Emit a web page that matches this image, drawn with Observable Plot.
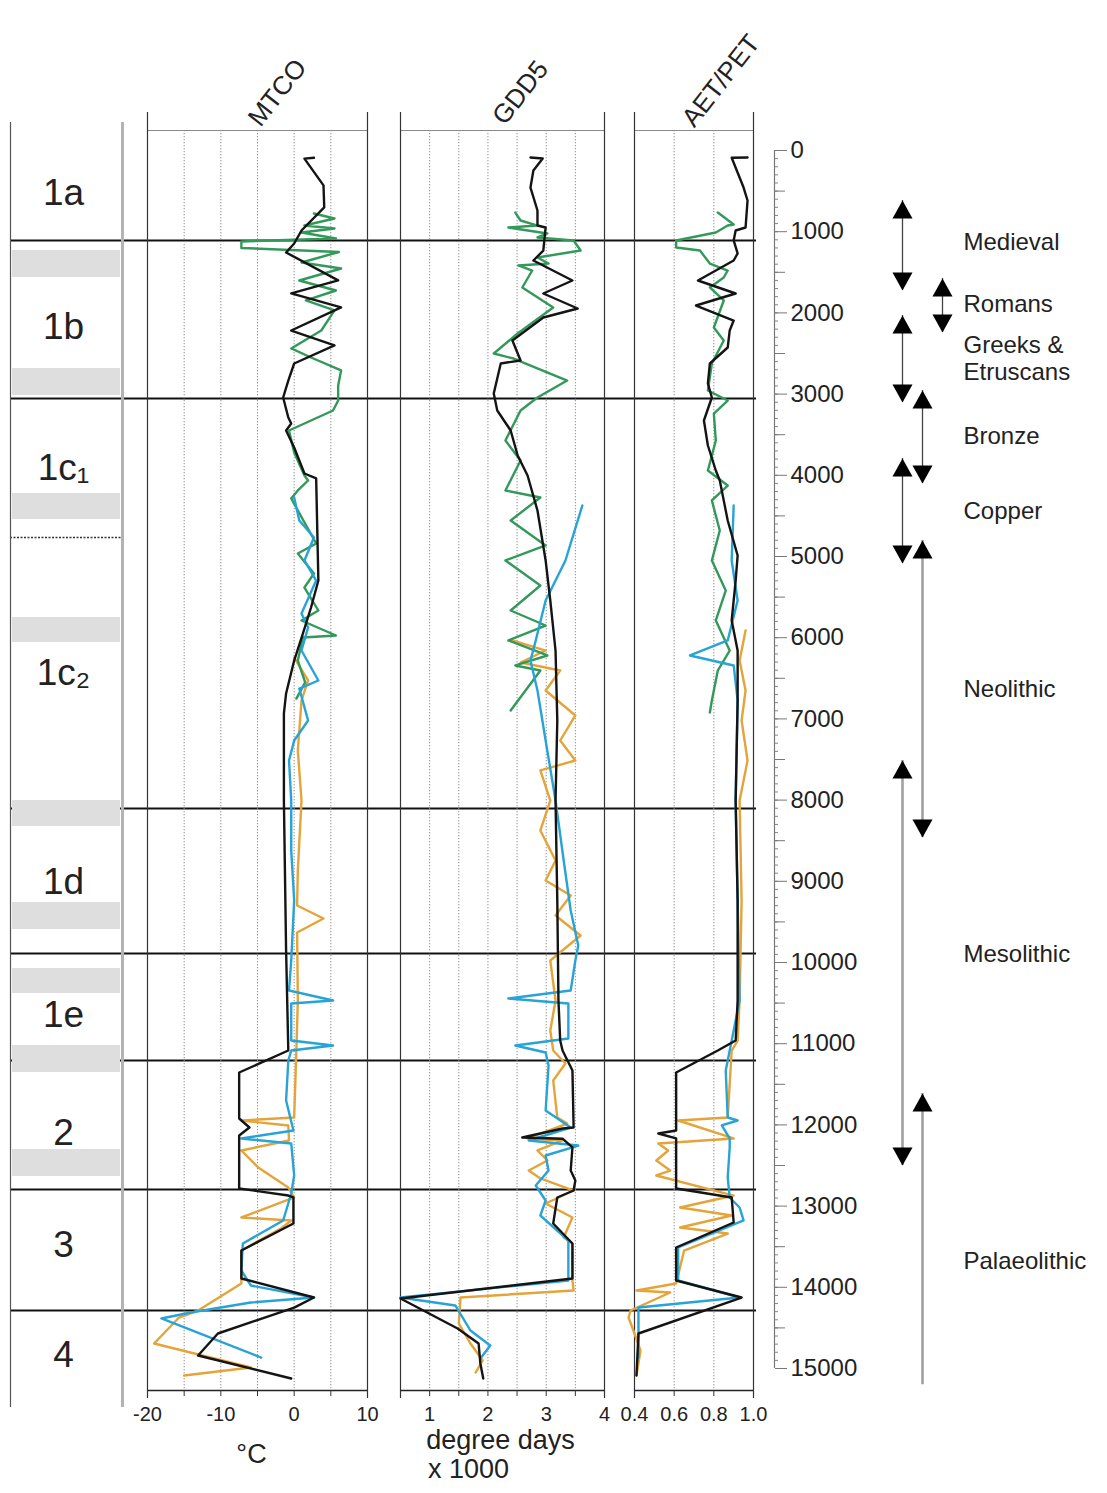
<!DOCTYPE html>
<html><head><meta charset="utf-8">
<script src="https://cdn.jsdelivr.net/npm/d3@7"></script>
<script src="https://cdn.jsdelivr.net/npm/@observablehq/plot@0.6"></script>
<style>
html,body{margin:0;padding:0;background:#fff;overflow:hidden}
#chart{position:relative;width:1107px;height:1493px}
#chart svg{position:absolute;left:0;top:0}
</style></head><body><div id="chart"></div>
<script>
// ---------------- DATA (age in cal yr BP, value) ----------------
const ageTicks = [0,1000,2000,3000,4000,5000,6000,7000,8000,9000,10000,11000,12000,13000,14000,15000];

const zoneBounds = [1108, 3054, 8103, 9889, 11207, 12795, 14286];
const zoneSubBound = [4766];
const zoneNames = ["1a","1b","1c\u2081","1c\u2082","1d","1e","2","3","4"];
const zoneLabelAge = [520, 2180, 3916, 6441, 9015, 10653, 12106, 13485, 14840];
const grayBandStart = [1232, 2685, 4224, 5751, 8005, 9261, 10074, 11022, 12303];
const grayBandEnd   = [1564, 3017, 4544, 6059, 8325, 9594, 10382, 11355, 12635];

const periodNames = ["Medieval","Romans","Greeks &\nEtruscans","Bronze","Copper","Neolithic","Mesolithic","Palaeolithic"];
const periodLabelAge = [1120, 1884, 2557, 3510, 4433, 6626, 9889, 13670];
const periodStart = [616, 1576, 2032, 2956, 3793, 4803, 7512, 11613];
const periodEnd   = [1724, 2241, 3103, 4101, 5086, 8460, 12500, null];
const periodLane  = ["a","c","a","b","a","b","a","b"];
const periodOpenEnd = 15200;

const mtcoTicks = [-20,-15,-10,-5,0,5,10];
const mtcoLabels = [-20,-10,0,10];
const mtcoGrid = [-15,-10,-5,0,5];
const gddTicks = [0.5,1,1.5,2,2.5,3,3.5,4];
const gddLabels = [1,2,3,4];
const gddGrid = [1,1.5,2,2.5,3,3.5];
const aetTicks = [0.4,0.6,0.8,1.0];
const aetLabels = [0.4,0.6,0.8,1.0];
const aetGrid = [0.6,0.8];

// MTCO (°C)
const mtcoBlack = [[90,2.7],[100,1.4],[430,4.0],[700,4.1],[985,1.0],[1145,0],[1256,-1.1],[1600,6.0],[1760,-0.4],[1933,6.4],[2217,-0.4],[2400,5.5],[2623,0],[2833,-0.8],[3042,-1.5],[3288,-0.8],[3362,-0.4],[3448,-1.1],[3657,0],[3978,1.4],[4039,3.0],[5296,3.3],[5628,2.3],[5948,1.2],[6281,0],[6687,-1.1],[6933,-1.4],[8005,-1.4],[9852,-1.1],[11084,-0.8],[11355,-7.5],[11921,-7.5],[12032,-6.1],[12130,-7.5],[12783,-7.5],[12870,-0.8],[12894,-0.1],[13214,-0.1],[13547,-7.2],[13892,-7.2],[14126,2.7],[14250,0],[14569,-10.4],[14840,-13.1],[15123,-0.4]];
const mtcoGreen = [[776,2.7],[837,5.5],[924,1.4],[960,5.5],[1010,1.0],[1084,5.7],[1120,-7.2],[1200,-7.2],[1250,6.1],[1379,1.0],[1453,6.4],[1601,0.7],[1724,5.7],[1847,1.6],[1970,5.5],[2217,3.7],[2438,-0.4],[2549,2.3],[2709,6.4],[2894,6.0],[3079,6.0],[3202,5.3],[3448,-0.7],[3719,0],[4002,1.4],[4064,1.9],[4187,0.5],[4286,-0.4],[4840,3.0],[4963,0.5],[5209,2.7],[5382,1.4],[5665,3.3],[5788,1.0],[5973,5.7],[5998,1.2],[6281,0.5],[6550,1.5],[6750,0.3]];
const mtcoOrange = [[6244,0],[6527,1.9],[6773,1.0],[7389,0.5],[8005,1.0],[8867,0.5],[9298,0.4],[9458,4.0],[9631,0.4],[10468,0.5],[11084,0.3],[11909,0],[11946,-7.2],[12007,-0.8],[12192,-0.7],[12315,-7.2],[12525,-4.9],[12771,-0.8],[12894,0],[13140,-7.2],[13177,-0.4],[13276,-1.8],[13547,-7.2],[13953,-7.2],[14286,-13.1],[14372,-15.7],[14692,-19.1],[14815,-13.6],[14988,-5.9],[15086,-15.0]];
const mtcoBlue = [[4273,0],[4557,0.7],[4766,2.7],[5049,1.4],[5296,3.0],[5702,1.0],[5874,1.9],[6158,1.0],[6527,3.3],[6626,0.7],[7020,1.9],[7266,0],[7512,-0.7],[8005,-0.4],[8621,-0.4],[9236,0],[9975,-0.4],[10345,-0.7],[10468,5.3],[10505,-0.4],[10961,-0.4],[11022,5.3],[11084,-0.4],[11207,-0.8],[11700,-1.1],[12069,-0.1],[12167,-7.2],[12229,-0.4],[12623,0],[12845,-0.4],[13177,-1.5],[13461,-7.0],[13793,-7.2],[13978,-5.9],[14126,2.7],[14187,-5.9],[14310,-14.1],[14384,-18.1],[14865,-4.5]];

// GDD5 (degree days x 1000)
const gddBlack = [[86,2.73],[98,2.94],[246,2.78],[456,2.73],[739,2.85],[924,2.85],[948,2.99],[1232,2.95],[1355,2.78],[1601,3.45],[1761,2.95],[1946,3.54],[2057,2.95],[2340,2.42],[2586,2.56],[2623,2.22],[2993,2.10],[3202,2.16],[3448,2.39],[3756,2.51],[4002,2.68],[4433,2.85],[5049,2.99],[5542,3.07],[6158,3.16],[7020,3.19],[8005,3.16],[9236,3.19],[10468,3.21],[10961,3.24],[11084,3.28],[11330,3.45],[12032,3.47],[12044,3.28],[12155,2.59],[12170,3.28],[12278,3.45],[12562,3.42],[12685,3.50],[12808,3.47],[12894,3.19],[13214,3.12],[13461,3.45],[13892,3.45],[14138,0.5],[14507,1.48],[14692,1.84],[14938,1.87],[15123,1.92]];
const gddGreen = [[764,2.47],[862,2.56],[924,2.85],[948,2.35],[1022,3.02],[1071,2.85],[1108,3.47],[1232,3.59],[1318,2.85],[1392,3.04],[1416,2.52],[1478,2.76],[1687,2.59],[1933,3.12],[2254,2.51],[2500,2.10],[2562,2.44],[2833,3.36],[3042,2.85],[3202,2.56],[3571,2.30],[3818,2.56],[4187,2.30],[4273,2.90],[4557,2.39],[4864,2.99],[5049,2.30],[5357,2.90],[5665,2.39],[5850,2.99],[6034,2.35],[6219,3.02],[6342,2.47],[6404,2.90],[6897,2.39]];
const gddOrange = [[6034,2.42],[6158,2.99],[6305,2.56],[6404,3.24],[6650,2.99],[6958,3.50],[7266,3.24],[7512,3.50],[7635,2.90],[8005,3.07],[8374,2.90],[8744,3.16],[8990,2.99],[9175,3.42],[9421,3.16],[9667,3.59],[9975,3.07],[10468,3.16],[10837,3.07],[11084,3.12],[11244,3.33],[11453,3.12],[11909,3.19],[11983,3.36],[12167,2.68],[12192,3.28],[12315,2.85],[12438,3.02],[12562,2.70],[12660,2.90],[12808,3.47],[12968,2.99],[13140,3.45],[13387,3.30],[13461,3.45],[13916,3.45],[14039,3.47],[14126,1.53],[14446,1.50],[14692,1.70],[14901,1.91],[15049,1.79]];
const gddBlue = [[4372,3.62],[5049,3.33],[5542,2.99],[6034,2.82],[6281,2.73],[6650,2.85],[7266,2.99],[8005,3.16],[8744,3.30],[9360,3.42],[9791,3.55],[9975,3.50],[10345,3.42],[10443,2.35],[10505,3.38],[10936,3.38],[11022,2.47],[11108,2.99],[11268,3.04],[11823,2.99],[12032,3.42],[12192,2.70],[12254,3.55],[12377,2.99],[12562,3.04],[12746,2.82],[12931,2.99],[13116,2.90],[13424,3.38],[13916,3.38],[14126,0.5],[14224,1.44],[14532,1.70],[14717,2.04],[14877,1.87]];

// AET/PET
const aetBlack = [[86,0.97],[90,0.89],[456,0.95],[616,0.97],[948,0.96],[985,0.91],[1108,0.90],[1268,0.92],[1355,0.90],[1601,0.72],[1761,0.91],[1909,0.71],[2094,0.90],[2217,0.88],[2426,0.87],[2623,0.78],[2870,0.77],[3042,0.79],[3325,0.75],[3633,0.77],[3941,0.81],[4064,0.83],[4557,0.87],[4988,0.92],[5296,0.91],[5788,0.89],[6158,0.92],[6773,0.92],[8005,0.91],[9236,0.92],[10468,0.92],[10961,0.91],[11084,0.82],[11355,0.61],[12069,0.61],[12106,0.52],[12167,0.61],[12783,0.61],[12894,0.89],[13202,0.90],[13510,0.61],[13916,0.61],[14126,0.94],[14569,0.42],[15086,0.41]];
const aetGreen = [[764,0.82],[837,0.86],[911,0.90],[924,0.87],[1010,0.81],[1108,0.61],[1195,0.61],[1232,0.73],[1392,0.78],[1478,0.87],[1564,0.85],[1687,0.78],[1847,0.85],[2180,0.80],[2340,0.85],[2623,0.79],[2956,0.77],[3079,0.87],[3239,0.80],[3571,0.81],[3941,0.77],[4126,0.87],[4310,0.79],[4680,0.83],[5049,0.79],[5419,0.86],[5788,0.81],[6158,0.88],[6404,0.82],[6773,0.79],[6921,0.78]];
const aetOrange = [[5911,0.96],[6281,0.93],[6650,0.96],[7020,0.94],[7512,0.97],[8005,0.93],[9236,0.94],[10468,0.93],[10961,0.92],[11084,0.89],[11909,0.87],[11946,0.62],[12167,0.90],[12229,0.52],[12315,0.57],[12438,0.51],[12562,0.58],[12623,0.51],[12870,0.90],[13017,0.63],[13116,0.89],[13264,0.63],[13338,0.87],[13547,0.65],[13953,0.61],[14039,0.41],[14064,0.58],[14286,0.38],[14372,0.37],[14569,0.40],[14778,0.43],[15086,0.41]];
const aetBlue = [[4372,0.90],[5049,0.89],[5542,0.92],[6034,0.87],[6219,0.68],[6342,0.90],[6773,0.92],[8005,0.91],[9236,0.92],[10468,0.93],[10961,0.89],[11084,0.88],[11330,0.86],[11909,0.87],[11946,0.92],[12007,0.84],[12167,0.88],[12278,0.88],[12648,0.87],[12894,0.88],[13017,0.93],[13177,0.95],[13510,0.62],[13916,0.62],[14126,0.93],[14249,0.42],[14569,0.42],[14865,0.42]];

// ---------------- LAYOUT ----------------
const W = 1107, H = 1493;
const Y0 = 150, Y1 = 1368;               // pixel rows of age 0 and 15000
const FRAME_TOP = 130, FRAME_BOTTOM = 1390;
const pxToAge = px => (px - Y0) * 15000 / (Y1 - Y0);
const yScale = {domain: [0, 15000], range: [Y0, Y1], axis: null};
const FONT = "'Liberation Sans', Arial, Helvetica, sans-serif";
const baseStyle = {background: "transparent", fontFamily: FONT, fontSize: "18px", color: "#222", overflow: "visible"};
const COLORS = {black: "#141414", green: "#33995a", orange: "#e5a43a", blue: "#28a3d6"};

const chart = document.getElementById("chart");
const add = svg => chart.appendChild(svg);

function seriesMarks(list) {
  return list.map(([data, color]) => Plot.line(data, {
    x: d => d[1], y: d => d[0], stroke: COLORS[color], strokeWidth: 2.4,
    strokeLinejoin: "round", strokeLinecap: "round"
  }));
}

// 1. horizontal zone boundaries across all panels
add(Plot.plot({
  width: W, height: H, marginLeft: 10, marginRight: W - 756, marginTop: FRAME_TOP, marginBottom: H - FRAME_BOTTOM,
  style: baseStyle, y: yScale,
  marks: [Plot.ruleY(zoneBounds, {stroke: "#111", strokeWidth: 2})]
}));

// 2. zone column
const bands = grayBandStart.map((s, i) => ({s, e: grayBandEnd[i]}));
const zones = zoneNames.map((name, i) => ({name, age: zoneLabelAge[i]}));
add(Plot.plot({
  width: W, height: H, marginLeft: 10, marginRight: W - 122, marginTop: FRAME_TOP, marginBottom: H - FRAME_BOTTOM,
  style: baseStyle, y: yScale, x: {domain: [0, 1], axis: null},
  marks: [
    Plot.rect(bands, {y1: "s", y2: "e", fill: "#dedede", insetLeft: 2, insetRight: 2}),
    Plot.ruleY(zoneSubBound, {stroke: "#333", strokeWidth: 1.5, strokeDasharray: "2,1.5"}),
    Plot.ruleX([0], {y1: () => pxToAge(122), y2: () => pxToAge(1407), stroke: "#555", strokeWidth: 1.2}),
    Plot.ruleX([1], {y1: () => pxToAge(122), y2: () => pxToAge(1407), stroke: "#b3b3b3", strokeWidth: 3}),
    Plot.text(zones, {y: "age", text: "name", fontSize: 37, fill: "#222", dx: -3})
  ]
}));

// 3. data panels
function panel(cfg) {
  return Plot.plot({
    width: W, height: H, marginLeft: cfg.left, marginRight: W - cfg.right,
    marginTop: FRAME_TOP, marginBottom: H - FRAME_BOTTOM,
    style: baseStyle, y: yScale, x: {domain: cfg.domain},
    marks: [
      Plot.ruleX(cfg.grid, {stroke: "#8f8f8f", strokeWidth: 1, strokeDasharray: "1.3,1.7"}),
      Plot.frame({stroke: "#8a8a8a"}),
      Plot.ruleX(cfg.domain, {y1: () => pxToAge(112), y2: () => pxToAge(1398), stroke: "#333", strokeWidth: 1.2}),
      Plot.ruleY([15000], {y: () => pxToAge(FRAME_BOTTOM), stroke: "#222", strokeWidth: 1.3}),
      ...seriesMarks(cfg.series),
      Plot.axisX({anchor: "bottom", ticks: cfg.ticks, tickSize: 6, tickFormat: () => "", label: null, stroke: "#333"}),
      Plot.axisX({anchor: "bottom", ticks: cfg.labels, tickSize: 0, tickPadding: 16, tickFormat: cfg.fmt, label: null, fontSize: 20, fill: "#222"}),
      Plot.text([cfg.title], {frameAnchor: "top", text: d => d, dx: cfg.tdx, dy: cfg.tdy, rotate: -52, fontSize: 26, fill: "#222"}),
      ...(cfg.extra || [])
    ]
  });
}

add(panel({
  left: 147, right: 367, domain: [-20, 10], grid: mtcoGrid, ticks: mtcoTicks, labels: mtcoLabels,
  fmt: d => String(d), title: "MTCO", tdx: 12, tdy: -44,
  series: [[mtcoOrange, "orange"], [mtcoGreen, "green"], [mtcoBlue, "blue"], [mtcoBlack, "black"]],
  extra: [Plot.text(["°C"], {frameAnchor: "bottom", text: d => d, dy: 72, dx: -6, fontSize: 27, fill: "#222"})]
}));

add(panel({
  left: 400, right: 604, domain: [0.5, 4], grid: gddGrid, ticks: gddTicks, labels: gddLabels,
  fmt: d => String(d), title: "GDD5", tdx: 10, tdy: -44,
  series: [[gddOrange, "orange"], [gddGreen, "green"], [gddBlue, "blue"], [gddBlack, "black"]],
  extra: [
    Plot.text(["degree days"], {frameAnchor: "bottom", text: d => d, dy: 58, dx: -2, fontSize: 27, fill: "#222"}),
    Plot.text(["x 1000"], {frameAnchor: "bottom", text: d => d, dy: 87, dx: -34, fontSize: 27, fill: "#222"})
  ]
}));

add(panel({
  left: 634, right: 753, domain: [0.4, 1.0], grid: aetGrid, ticks: aetTicks, labels: aetLabels,
  fmt: d => d.toFixed(1), title: "AET/PET", tdx: 19, tdy: -56,
  series: [[aetOrange, "orange"], [aetGreen, "green"], [aetBlue, "blue"], [aetBlack, "black"]]
}));

// 4. age axis
const minorTicks = d3.range(0, 15001, 100);
const halfTicks = d3.range(500, 15000, 1000);
add(Plot.plot({
  width: W, height: H, marginLeft: 773, marginRight: W - 774, marginTop: FRAME_TOP, marginBottom: H - FRAME_BOTTOM,
  style: baseStyle, y: yScale, x: {domain: [0, 1], range: [774, 774], axis: null},
  marks: [
    Plot.ruleX([0], {y1: () => 0, y2: () => 15000, stroke: "#777", strokeWidth: 1.2}),
    Plot.axisY({anchor: "right", ticks: minorTicks, tickSize: 3, tickFormat: () => "", label: null, stroke: "#888"}),
    Plot.axisY({anchor: "right", ticks: halfTicks, tickSize: 10, tickFormat: () => "", label: null, stroke: "#777"}),
    Plot.axisY({anchor: "right", ticks: ageTicks, tickSize: 12, tickPadding: 4, tickFormat: d => String(d), label: null, fontSize: 24, fill: "#222", stroke: "#777"})
  ]
}));

// 5. archaeological periods
const triUp = {draw(ctx) { ctx.moveTo(0, 0); ctx.lineTo(10, 18); ctx.lineTo(-10, 18); ctx.closePath(); }};
const triDown = {draw(ctx) { ctx.moveTo(0, 0); ctx.lineTo(10, -18); ctx.lineTo(-10, -18); ctx.closePath(); }};
const longPeriods = new Set(["Neolithic", "Mesolithic", "Palaeolithic"]);
const periods = periodNames.map((name, i) => ({
  name, labelAge: periodLabelAge[i], start: periodStart[i], end: periodEnd[i], lane: periodLane[i]
}));
add(Plot.plot({
  width: W, height: H, marginLeft: 963, marginRight: 0, marginTop: FRAME_TOP, marginBottom: H - FRAME_BOTTOM,
  style: baseStyle, y: yScale,
  x: {type: "point", domain: ["a", "b", "c"], range: [902, 942], padding: 0, axis: null},
  marks: [
    Plot.ruleX(periods, {
      x: "lane", y1: "start", y2: d => d.end ?? periodOpenEnd,
      stroke: d => longPeriods.has(d.name) ? "#a0a0a0" : "#444",
      strokeWidth: d => longPeriods.has(d.name) ? 2.6 : 1.3
    }),
    Plot.dot(periods, {x: "lane", y: "start", symbol: triUp, r: 8, fill: "#000", stroke: "none"}),
    Plot.dot(periods.filter(d => d.end != null), {x: "lane", y: "end", symbol: triDown, r: 8, fill: "#000", stroke: "none"}),
    Plot.text(periods, {y: "labelAge", text: "name", frameAnchor: "left", textAnchor: "start", fontSize: 24, lineHeight: 1.1, fill: "#222"})
  ]
}));
</script></body></html>
